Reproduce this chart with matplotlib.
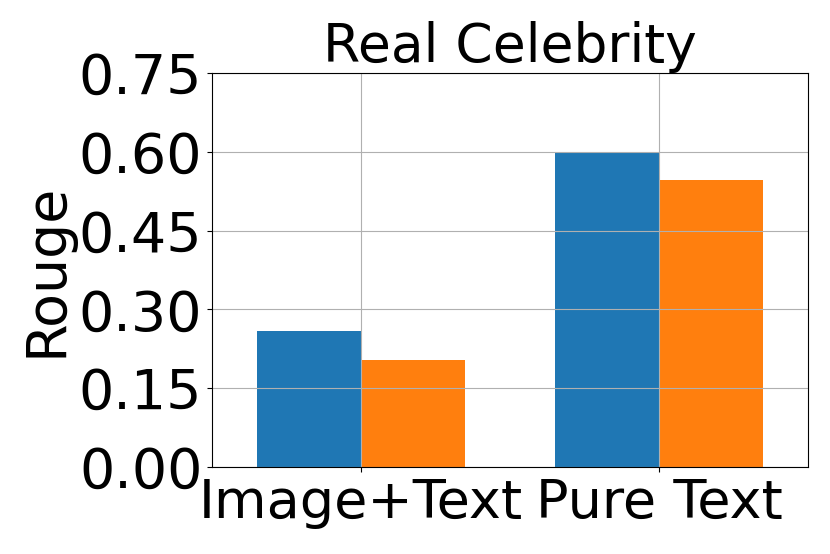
import numpy as np
import matplotlib
matplotlib.use('Agg')
import matplotlib.pyplot as plt

# Rouge scores per input setting
categories = ['Image+Text', 'Pure Text']
series_a = [0.259, 0.597]
series_b = [0.203, 0.547]
yticks = [0.00, 0.15, 0.30, 0.45, 0.60, 0.75]

x = np.arange(len(categories))
width = 0.35

fig, ax = plt.subplots(figsize=(8.3, 5.54), dpi=100)
ax.bar(x - width / 2, series_a, width, color='#1f77b4')
ax.bar(x + width / 2, series_b, width, color='#ff7f0e')

ax.set_xticks(x)
ax.set_xticklabels(categories, fontsize=39)
ax.set_yticks(yticks)
ax.set_yticklabels(['%.2f' % v for v in yticks], fontsize=40)
ax.set_ylim(0, 0.75)
ax.set_xlim(-0.5, 1.5)
ax.set_ylabel('Rouge', fontsize=40)
ax.set_title('Real Celebrity', fontsize=38.5)
ax.grid(True)

plt.subplots_adjust(left=0.2554, right=0.9735, top=0.8682, bottom=0.157)
fig.savefig('out.png', dpi=100)
